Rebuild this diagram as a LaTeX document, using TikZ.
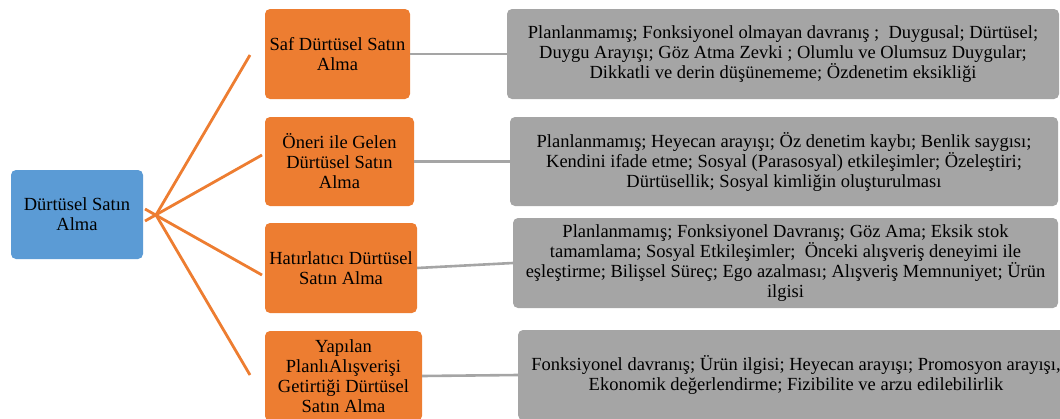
\documentclass[tikz,border=0pt]{standalone}
\usepackage{fontspec}
\setmainfont{Liberation Serif}
\definecolor{rootblue}{HTML}{5B9BD5}
\definecolor{catorange}{HTML}{ED7D31}
\definecolor{descgrey}{HTML}{A5A5A5}
\definecolor{linkgrey}{HTML}{A5A5A5}
\begin{document}
\begin{tikzpicture}[x=1pt,y=-1pt,
  box/.style={rounded corners=5pt, inner sep=0pt, align=center,
    font=\fontsize{18.5}{20}\selectfont, text=black},
  rootbox/.style={box, fill=rootblue},
  catbox/.style={box, fill=catorange},
  descbox/.style={box, fill=descgrey},
  spoke/.style={draw=catorange, line width=2.8pt},
  link/.style={draw=linkgrey, line width=2.6pt}]
\useasboundingbox (0,0) rectangle (1060,418);
\clip (0,0) rectangle (1060,418);

% root
\node[rootbox, minimum width=132pt, minimum height=89pt] (root) at (77,214.5)
  {Dürtüsel Satın\\ Alma};

% spokes from the root to the four categories
\coordinate (hub) at (156,215);
\coordinate (s1) at (250,55);
\coordinate (s2) at (262,155);
\coordinate (s3) at (262,275);
\coordinate (s4) at (250,375);
\coordinate (r2) at (145,221);
\coordinate (r3) at (145,209);
\draw[spoke] (s1) -- (hub);
\draw[spoke] (s2) -- (r2);
\draw[spoke] (s3) -- (r3);
\draw[spoke] (s4) -- (hub);

% categories
\node[catbox, minimum width=145pt, minimum height=90pt] (o1) at (337.5,54)
  {Saf Dürtüsel Satın\\ Alma};
\node[catbox, minimum width=149pt, minimum height=89pt] (o2) at (339.5,161.5)
  {Öneri ile Gelen\\ Dürtüsel Satın\\ Alma};
\node[catbox, minimum width=152pt, minimum height=90pt] (o3) at (341,268)
  {Hatırlatıcı Dürtüsel\\ Satın Alma};
\node[catbox, minimum width=157pt, minimum height=90pt] (o4) at (343.5,376)
  {Yapılan\\ PlanlıAlışverişi\\ Getirtiği Dürtüsel\\ Satın Alma};

% descriptions
\node[descbox, minimum width=552pt, minimum height=90pt] (g1) at (783,54)
  {Planlanmamış; Fonksiyonel olmayan davranış ;\ \ Duygusal; Dürtüsel;\\
   Duygu Arayışı; Göz Atma Zevki ; Olumlu ve Olumsuz Duygular;\\
   Dikkatli ve derin düşünememe; Özdenetim eksikliği};
\node[descbox, minimum width=548pt, minimum height=89pt] (g2) at (784,161.5)
  {Planlanmamış; Heyecan arayışı; Öz denetim kaybı; Benlik saygısı;\\
   Kendini ifade etme; Sosyal (Parasosyal) etkileşimler; Özeleştiri;\\
   Dürtüsellik; Sosyal kimliğin oluşturulması};
\node[descbox, minimum width=545pt, minimum height=90pt] (g3) at (785.5,263)
  {Planlanmamış; Fonksiyonel Davranış; Göz Ama; Eksik stok\\
   tamamlama; Sosyal Etkileşimler;\ \ Önceki alışveriş deneyimi ile\\
   eşleştirme; Bilişsel Süreç; Ego azalması; Alışveriş Memnuniyet; Ürün\\
   ilgisi};
\node[descbox, minimum width=556pt, minimum height=90pt] (g4) at (796,375)
  {Fonksiyonel davranış; Ürün ilgisi; Heyecan arayışı; Promosyon arayışı,\\
   Ekonomik değerlendirme; Fizibilite ve arzu edilebilirlik};

% links from categories to descriptions
\draw[link] (o1.east) -- (g1.west);
\draw[link] (o2.east) -- (g2.west);
\draw[link] (o3.east) -- (g3.west);
\draw[link] (o4.east) -- (g4.west);
\end{tikzpicture}
\end{document}
